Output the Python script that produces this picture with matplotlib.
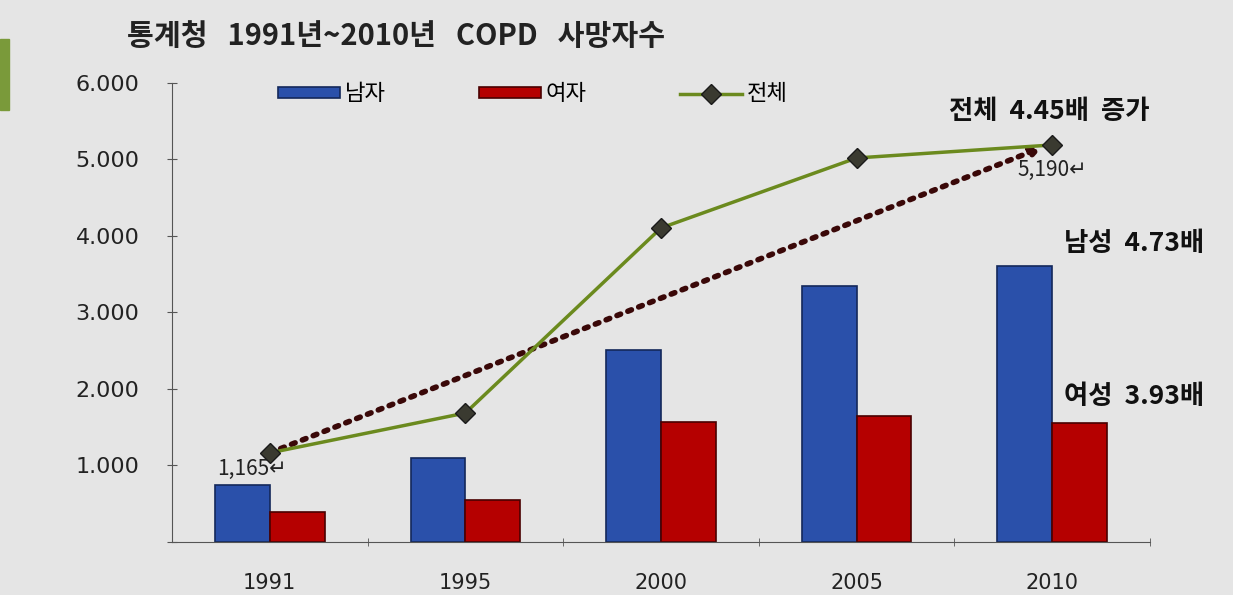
import matplotlib
matplotlib.use("Agg")
import matplotlib.pyplot as plt
import numpy as np

plt.rcParams['font.family'] = ['Noto Sans CJK KR', 'DejaVu Sans']

years = ["1991", "1995", "2000", "2005", "2010"]
male = [745, 1098, 2510, 3346, 3608]
female = [392, 549, 1569, 1647, 1556]
total = [1165, 1686, 4105, 5020, 5190]
yticks = [0, 1000, 2000, 3000, 4000, 5000, 6000]
ytick_labels = ["", "1.000", "2.000", "3.000", "4.000", "5.000", "6.000"]

bg = "#e5e5e5"
fig = plt.figure(figsize=(12.33, 5.95), dpi=100, facecolor=bg)
ax = fig.add_axes([0.1395, 0.0891, 0.7932, 0.7714], facecolor=bg)

x = np.arange(len(years))
w = 0.28
b1 = ax.bar(x - w/2, male, w, color="#2a50aa", edgecolor="#14285a", linewidth=1.2, label="남자")
b2 = ax.bar(x + w/2, female, w, color="#b50000", edgecolor="#4a0000", linewidth=1.2, label="여자")
l1, = ax.plot(x, total, color="#6b8a1e", lw=2.5, marker="D", ms=10,
              mfc="#3a3a30", mec="#1a1a1a", label="전체", zorder=4)

# dotted trend from first to last total
ax.annotate("", xy=(x[-1] - 0.05, total[-1] - 30), xytext=(x[0], total[0]),
            arrowprops=dict(arrowstyle="-|>", color="#3a0808", lw=4,
                            linestyle=(0, (0.7, 1.4)), mutation_scale=14,
                            shrinkA=0, shrinkB=0), zorder=3)

ax.set_xlim(-0.5, 4.5)
ax.set_ylim(0, 6000)
ax.set_yticks(yticks)
ax.set_yticklabels(ytick_labels, fontsize=16, color="#222222", family="DejaVu Sans")
ax.set_xticks(x)
ax.set_xticklabels(years, fontsize=15, color="#222222", family="DejaVu Sans")
ax.tick_params(axis="x", which="major", length=0, pad=22)
ax.set_xticks(np.arange(0.5, 5, 1), minor=True)
ax.tick_params(axis="x", which="minor", length=6, direction="inout", color="#555555")
ax.tick_params(axis="y", length=7, direction="inout", color="#555555", pad=20)
for s in ["top", "right"]:
    ax.spines[s].set_visible(False)
for s in ["left", "bottom"]:
    ax.spines[s].set_color("#555555")

ax.legend(handles=[b1, b2, l1], loc="upper left", bbox_to_anchor=(0.088, 1.045), ncol=3,
          frameon=False, fontsize=16, handlelength=2.8, handleheight=0.35,
          columnspacing=4.2, handletextpad=0.2)

ax.text(x[0] - 0.27, total[0] - 290, "1,165↵", fontsize=15, color="#222222")
ax.text(x[-1] - 0.18, total[-1] - 400, "5,190↵", fontsize=15, color="#222222")
ax.text(x[-1] - 0.53, 5530, "전체  4.45배  증가", fontsize=19, fontweight="bold", color="#111111")
ax.text(x[-1] + 0.06, 3800, "남성  4.73배", fontsize=19, fontweight="bold", color="#111111")
ax.text(x[-1] + 0.06, 1800, "여성  3.93배", fontsize=19, fontweight="bold", color="#111111")

fig.text(0.103, 0.94, "통계청   1991년~2010년   COPD   사망자수", fontsize=21, fontweight="bold",
         color="#222222", va="center")
fig.patches.append(plt.Rectangle((0, 0.815), 0.007, 0.12, transform=fig.transFigure,
                                 color="#7a9a3a"))

fig.savefig("out.png", facecolor=bg)
